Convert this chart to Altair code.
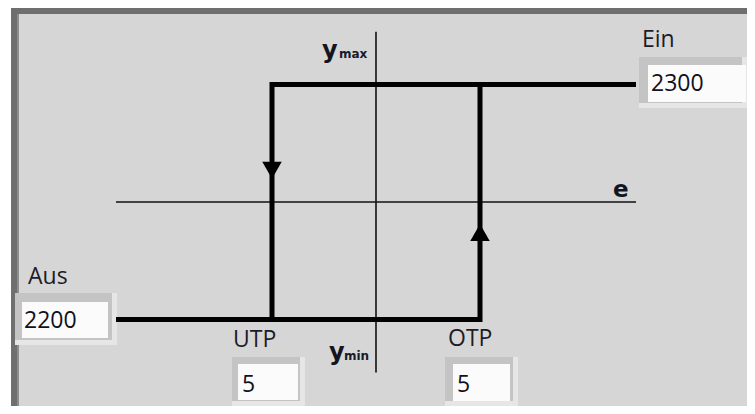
import altair as alt
import pandas as pd

# ---------------- data ----------------
control_names = ["Ein", "Aus", "UTP", "OTP"]
control_values = [2300, 2200, 5, 5]

# hysteresis loop in schematic units (e horizontally, y vertically)
path_ids = ["lower", "lower", "lower", "upper", "upper", "upper"]
path_order = [0, 1, 2, 0, 1, 2]
path_e = [-2.5, 1.0, 1.0, -1.0, -1.0, 2.5]
path_y = [-1.0, -1.0, 1.0, -1.0, 1.0, 1.0]

arrow_e = [-1.0, 1.0]
arrow_y = [0.27, -0.26]
arrow_shape = ["triangle-down", "triangle-up"]

e_axis_ext = [-2.5, 2.5]
y_axis_ext = [-1.45, 1.45]
axis_e_label = "e"
y_sub_labels = ["max", "min"]

# ---------------- layout (page pixels -> schematic units) ----------------
W, H = 739, 398
X0, SX, Y0, SY = 376, 104, 202, 117.5


def ex(p):
    return (p - X0) / SX


def ey(p):
    return (Y0 - p) / SY


xs = alt.Scale(domain=[ex(8), ex(8 + W)], nice=False, zero=False)
ys = alt.Scale(domain=[ey(8 + H), ey(8)], nice=False, zero=False)

RIGHT = 8 + W
BOTTOM = 8 + H

# control boxes: outer frame, inner field, label anchor, value anchor
ctrl_layout = {
    "Ein": dict(outer=(639, 57, RIGHT, 108), inner=(648, 65, RIGHT - 1, 102), label=(642, 47), value=(651, 91)),
    "Aus": dict(outer=(15, 293, 117, 345), inner=(22, 302, 108, 338), label=(28, 284), value=(24, 328)),
    "UTP": dict(outer=(232, 357, 305, BOTTOM), inner=(238, 364, 298, 400), label=(233, 347), value=(242, 392)),
    "OTP": dict(outer=(445, 357, 518, BOTTOM), inner=(453, 364, 510, 401), label=(448, 346), value=(457, 392)),
}

rects = [
    (11, 8, RIGHT, BOTTOM, "#6f6f6f"),
    (17, 14, RIGHT, BOTTOM, "#8c8c8c"),
    (19, 14, RIGHT, BOTTOM, "#d6d6d6"),
]
for name in control_names:
    L = ctrl_layout[name]
    x0, y0, x1, y1 = L["outer"]
    rects.append((x0, y0, x1, y1, "#e6e6e6"))
    rects.append((x0, y0, x1 - 5, y1 - 5, "#c4c4c4"))
    ix0, iy0, ix1, iy1 = L["inner"]
    rects.append((ix0, iy0, ix1, iy1, "#fbfbfb"))

rect_df = pd.DataFrame(
    [dict(x=ex(a), x2=ex(c), y=ey(b), y2=ey(d), fill=f, i=k) for k, (a, b, c, d, f) in enumerate(rects)]
)

bg = alt.Chart(rect_df).mark_rect().encode(
    x=alt.X("x:Q", scale=xs, axis=None),
    x2="x2:Q",
    y=alt.Y("y:Q", scale=ys, axis=None),
    y2="y2:Q",
    color=alt.Color("fill:N", scale=None),
)

axes_df = pd.DataFrame(
    dict(
        x=[e_axis_ext[0], 0.0],
        x2=[e_axis_ext[1], 0.0],
        y=[0.0, y_axis_ext[0]],
        y2=[0.0, y_axis_ext[1]],
    )
)
axes = alt.Chart(axes_df).mark_rule(color="#111111", strokeWidth=1.6).encode(
    x=alt.X("x:Q", scale=xs, axis=None),
    x2="x2:Q",
    y=alt.Y("y:Q", scale=ys, axis=None),
    y2="y2:Q",
)

path_df = pd.DataFrame(dict(path=path_ids, order=path_order, e=path_e, y=path_y))
loop = alt.Chart(path_df).mark_line(
    color="black", strokeWidth=5, strokeJoin="miter", strokeCap="butt"
).encode(
    x=alt.X("e:Q", scale=xs, axis=None),
    y=alt.Y("y:Q", scale=ys, axis=None),
    detail="path:N",
    order="order:Q",
)

arrow_df = pd.DataFrame(dict(e=arrow_e, y=arrow_y, shape=arrow_shape))
arrows = alt.Chart(arrow_df).mark_point(
    filled=True, size=380, color="black", opacity=1
).encode(
    x=alt.X("e:Q", scale=xs, axis=None),
    y=alt.Y("y:Q", scale=ys, axis=None),
    shape=alt.Shape("shape:N", scale=None),
)

lab_rows = []
val_rows = []
for name, val in zip(control_names, control_values):
    L = ctrl_layout[name]
    lab_rows.append(dict(t=name, x=ex(L["label"][0]), y=ey(L["label"][1])))
    val_rows.append(dict(t=str(val), x=ex(L["value"][0]), y=ey(L["value"][1])))

labels = alt.Chart(pd.DataFrame(lab_rows)).mark_text(
    font="Open Sans", fontSize=23, align="left", baseline="alphabetic", color="#1c1c28"
).encode(
    x=alt.X("x:Q", scale=xs, axis=None),
    y=alt.Y("y:Q", scale=ys, axis=None),
    text="t:N",
)
values = alt.Chart(pd.DataFrame(val_rows)).mark_text(
    font="Open Sans", fontSize=23, align="left", baseline="alphabetic", color="#101020"
).encode(
    x=alt.X("x:Q", scale=xs, axis=None),
    y=alt.Y("y:Q", scale=ys, axis=None),
    text="t:N",
)

ysym_df = pd.DataFrame(
    dict(t=["y", "y"], x=[ex(322), ex(329)], y=[ey(58), ey(360)])
)
ysym = alt.Chart(ysym_df).mark_text(
    font="DejaVu Sans", fontWeight="bold", fontSize=24, align="left", baseline="alphabetic", color="#141420"
).encode(
    x=alt.X("x:Q", scale=xs, axis=None),
    y=alt.Y("y:Q", scale=ys, axis=None),
    text="t:N",
)
ysub_df = pd.DataFrame(
    dict(t=y_sub_labels, x=[ex(339), ex(344)], y=[ey(58), ey(360)])
)
ysub = alt.Chart(ysub_df).mark_text(
    font="DejaVu Sans", fontWeight="bold", fontSize=12, align="left", baseline="alphabetic", color="#1a1a2a"
).encode(
    x=alt.X("x:Q", scale=xs, axis=None),
    y=alt.Y("y:Q", scale=ys, axis=None),
    text="t:N",
)
elab_df = pd.DataFrame(dict(t=[axis_e_label], x=[ex(613)], y=[ey(197)]))
elab = alt.Chart(elab_df).mark_text(
    font="DejaVu Sans", fontWeight="bold", fontSize=23, align="left", baseline="alphabetic", color="#141420"
).encode(
    x=alt.X("x:Q", scale=xs, axis=None),
    y=alt.Y("y:Q", scale=ys, axis=None),
    text="t:N",
)

chart = (
    alt.layer(bg, axes, loop, arrows, labels, values, ysym, ysub, elab)
    .properties(width=W, height=H, padding=0, autosize="none", background="white")
    .configure_view(stroke=None)
)

chart.save("out.html", embed_options={"renderer": "svg", "actions": False})
